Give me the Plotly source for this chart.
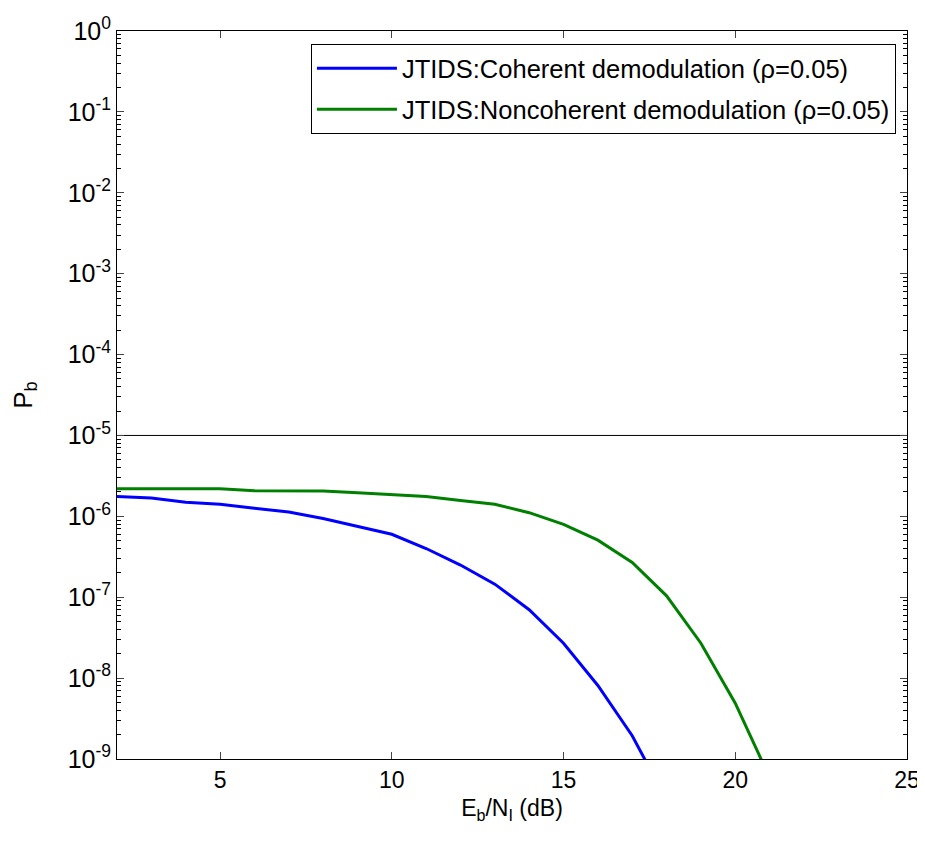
import plotly.graph_objects as go

ebni_db = [2, 3, 4, 5, 6, 7, 8, 9, 10, 11, 12, 13, 14, 15, 16, 17, 18, 19, 20, 21]
pb_coherent = [1.76e-6, 1.68e-6, 1.49e-6, 1.41e-6, 1.26e-6, 1.13e-6, 9.4e-7, 7.5e-7, 6.0e-7,
               4.0e-7, 2.5e-7, 1.45e-7, 7.0e-8, 2.7e-8, 8.1e-9, 1.94e-9, 3.1e-10, None, None, None]
pb_noncoherent = [2.19e-6, 2.19e-6, 2.19e-6, 2.19e-6, 2.07e-6, 2.07e-6, 2.05e-6, 1.95e-6, 1.86e-6,
                  1.76e-6, 1.57e-6, 1.41e-6, 1.11e-6, 7.97e-7, 5.07e-7, 2.69e-7, 1.04e-7, 2.7e-8,
                  4.9e-9, 5.9e-10]
threshold_x = [2, 25]
threshold_y = [1e-5, 1e-5]

names = ["JTIDS:Coherent demodulation (\u03c1=0.05)",
         "JTIDS:Noncoherent demodulation (\u03c1=0.05)"]

x_ticks = [5, 10, 15, 20, 25]
y_exps = [-9, -8, -7, -6, -5, -4, -3, -2, -1, 0]
y_tickvals = [10.0 ** e for e in y_exps]
y_ticktext = ["10<sup>%d</sup>" % e for e in y_exps]
y_minor = [m * 10.0 ** e for e in y_exps[:-1] for m in range(2, 10)]

fig = go.Figure()
fig.add_trace(go.Scatter(x=ebni_db, y=pb_coherent, mode="lines", name=names[0],
                         legendgroup="a",
                         line=dict(color="#0000FF", width=3)))
fig.add_trace(go.Scatter(x=ebni_db, y=pb_noncoherent, mode="lines", name=names[1],
                         legendgroup="b",
                         line=dict(color="#008000", width=3)))
fig.add_trace(go.Scatter(x=threshold_x, y=threshold_y, mode="lines", showlegend=False,
                         line=dict(color="black", width=1)))

font = "Liberation Sans, Arial, sans-serif"
# page body has an 8px default margin; figure sized so page totals 925x841
fig.update_layout(
    width=917, height=833,
    margin=dict(l=109, r=18, t=23, b=82),
    paper_bgcolor="white", plot_bgcolor="white",
    font=dict(family=font, size=22, color="black"),
    showlegend=True,
    legend=dict(x=0.986, y=0.982, xanchor="right", yanchor="top",
                bgcolor="white", bordercolor="black", borderwidth=1,
                font=dict(size=25.5), itemwidth=80, tracegroupgap=5),
    xaxis=dict(range=[2, 25], tickvals=x_ticks, ticks="inside", ticklen=7,
               tickfont=dict(size=23), automargin=False,
               showline=True, linecolor="black", linewidth=1, mirror="ticks",
               showgrid=False, zeroline=False,
               title=dict(text="E<sub>b</sub>/N<sub>I</sub> (dB)", standoff=8,
                          font=dict(size=23))),
    yaxis=dict(type="log", range=[-9, 0], tickvals=y_tickvals, ticktext=y_ticktext,
               ticks="inside", ticklen=7, tickfont=dict(size=25), automargin=False,
               minor=dict(tickvals=y_minor, ticks="inside", ticklen=4, showgrid=False,
                          tickcolor="black"),
               showline=True, linecolor="black", linewidth=1, mirror="ticks",
               showgrid=False, zeroline=False,
               title=dict(text="P<sub>b</sub>", standoff=40, font=dict(size=26))),
)

fig.write_html("out.html")
